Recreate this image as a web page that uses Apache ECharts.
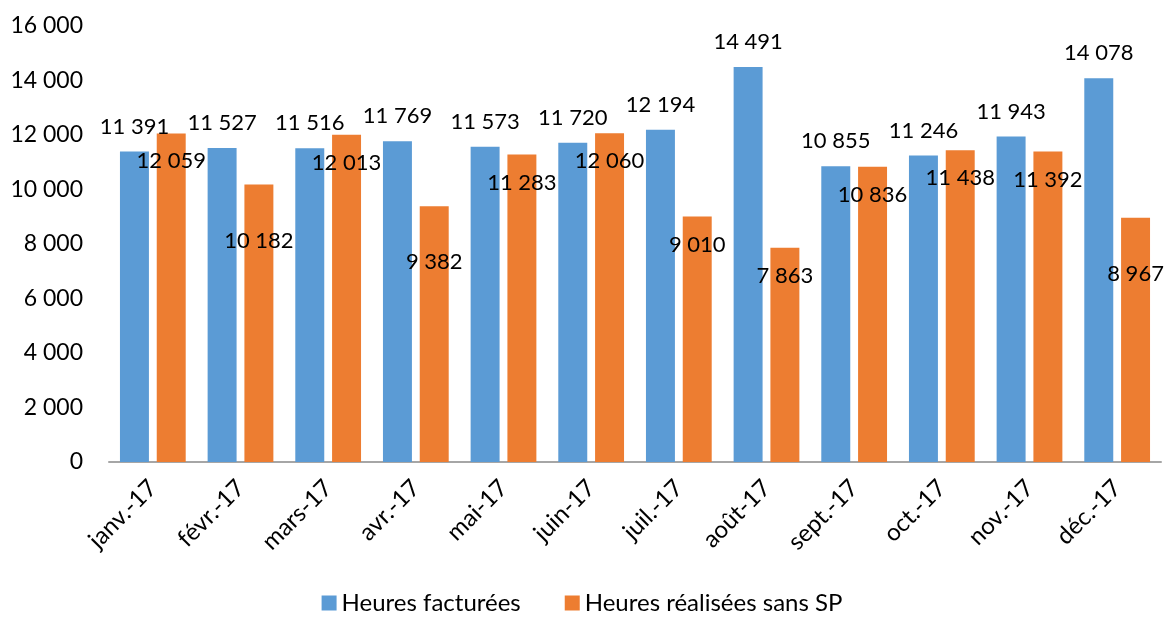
<!DOCTYPE html>
<html>
<head>
<meta charset="utf-8">
<script src="https://cdn.jsdelivr.net/npm/echarts@6/dist/echarts.min.js"></script>
<style>
  html, body { margin: 0; padding: 0; background: #fff; }
  #chart { width: 1164px; height: 617px; }
</style>
</head>
<body>
<div id="chart"></div>
<script>
const months = ['janv.-17', 'févr.-17', 'mars-17', 'avr.-17', 'mai-17', 'juin-17',
  'juil.-17', 'août-17', 'sept.-17', 'oct.-17', 'nov.-17', 'déc.-17']
const heuresFacturees = [11391, 11527, 11516, 11769, 11573, 11720, 12194, 14491, 10855, 11246, 11943, 14078]
const heuresRealisees = [12059, 10182, 12013, 9382, 11283, 12060, 9010, 7863, 10836, 11438, 11392, 8967]
const legendNames = ['Heures facturées', 'Heures réalisées sans SP']

const fontFamily = 'Lato'
const textColor = '#000'
// orange labels that sit lower in the original picture
const lowLabelIndex = [1, 3, 11]

// 11391 -> "11 391"
const fmt = value => String(value).replace(/\B(?=(\d{3})+(?!\d))/g, ' ')

const myChart = echarts.init(document.getElementById('chart'))

myChart.setOption({
  animation: false,
  textStyle: { fontFamily: fontFamily },
  color: ['#5B9BD5', '#ED7D31'],
  grid: {
    top: 26,
    left: 109,
    right: 3,
    bottom: 155
  },
  legend: {
    data: legendNames,
    top: 586,
    left: 'center',
    padding: 5,
    itemWidth: 15,
    itemHeight: 15,
    itemGap: 44,
    icon: 'rect',
    textStyle: { color: textColor, fontSize: 24, fontFamily: fontFamily }
  },
  xAxis: {
    type: 'category',
    data: months,
    axisLine: { lineStyle: { color: '#A6A6A6', width: 2 } },
    axisTick: { show: false },
    axisLabel: {
      color: textColor,
      fontSize: 24,
      rotate: 45,
      margin: 22,
      interval: 0
    }
  },
  yAxis: {
    type: 'value',
    min: 0,
    max: 16000,
    interval: 2000,
    splitLine: { show: false },
    axisLine: { show: false },
    axisTick: { show: false },
    axisLabel: {
      color: textColor,
      fontSize: 23,
      margin: 26,
      formatter: fmt
    }
  },
  series: [
    {
      name: legendNames[0],
      type: 'bar',
      barGap: '27%',
      barCategoryGap: '25%',
      data: heuresFacturees,
      label: {
        show: true,
        position: 'top',
        distance: 14,
        color: textColor,
        fontSize: 22,
        formatter: p => fmt(p.value)
      }
    },
    {
      name: legendNames[1],
      type: 'bar',
      data: heuresRealisees.map((v, i) => lowLabelIndex.includes(i)
        ? { value: v, label: { distance: 45 } }
        : v),
      label: {
        show: true,
        position: 'insideTop',
        distance: 17,
        color: textColor,
        fontSize: 22,
        formatter: p => fmt(p.value)
      }
    }
  ]
})
</script>
</body>
</html>
